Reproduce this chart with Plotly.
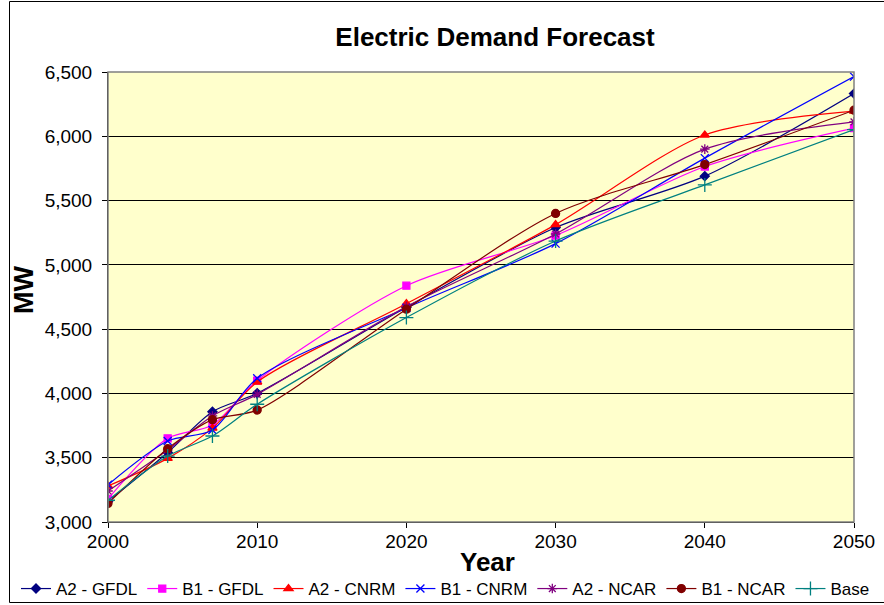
import plotly.graph_objects as go

years = [2000, 2004, 2007, 2010, 2020, 2030, 2040, 2050]

a2_gfdl = [3160, 3540, 3858, 4001, 4670, 5290, 5690, 6332]
b1_gfdl = [3180, 3651, 3755, 4100, 4838, 5228, 5765, 6063]
a2_cnrm = [3280, 3495, 3730, 4089, 4698, 5313, 6010, 6195]
b1_cnrm = [3290, 3630, 3716, 4118, 4665, 5165, 5830, 6464]
a2_ncar = [3241, 3560, 3825, 3993, 4675, 5240, 5900, 6112]
b1_ncar = [3145, 3570, 3796, 3871, 4655, 5400, 5780, 6203]
base = [3169, 3513, 3669, 3916, 4590, 5185, 5622, 6052]

series_names = ["A2 - GFDL", "B1 - GFDL", "A2 - CNRM", "B1 - CNRM",
                "A2 - NCAR", "B1 - NCAR", "Base"]
series_values = [a2_gfdl, b1_gfdl, a2_cnrm, b1_cnrm, a2_ncar, b1_ncar, base]
colors = ["#000080", "#FF00FF", "#FF0000", "#0000FF", "#800080", "#800000", "#008080"]
symbols = ["diamond", "square", "triangle-up", "x-thin-open", "asterisk-open",
           "circle", "cross-thin-open"]
sizes = [7, 7, 8, 8, 8, 8, 10]

y_ticks = [3000, 3500, 4000, 4500, 5000, 5500, 6000, 6500]
x_ticks = [2000, 2010, 2020, 2030, 2040, 2050]

FONT = "Arial, Liberation Sans, sans-serif"

fig = go.Figure()
for name, vals, c, s, sz in zip(series_names, series_values, colors, symbols, sizes):
    fig.add_trace(go.Scatter(
        x=years, y=vals, name=name, mode="lines+markers",
        line=dict(color=c, width=1.2, shape="spline", smoothing=0.8),
        marker=dict(symbol=s, size=sz, color=c, line=dict(color=c, width=1.3)),
    ))

W, H = 884, 605
L, R, T, B = 108, 30, 72, 83
pw, ph = W - L - R, H - T - B

def px(x):
    return (x - L) / pw

def py(y):
    return (H - B - y) / ph

fig.update_layout(
    width=W, height=H,
    margin=dict(l=L, r=R, t=T, b=B, autoexpand=False),
    paper_bgcolor="white",
    plot_bgcolor="#FFFFCC",
    font=dict(family=FONT, color="black", size=19),
    title=dict(text="<b>Electric Demand Forecast</b>", x=px(495), xref="paper",
               xanchor="center", y=1 - 36.5 / H, yref="container", yanchor="middle",
               font=dict(size=26, family=FONT, color="black")),
    showlegend=True,
    legend=dict(orientation="h", x=px(16), xanchor="left", y=py(589), yanchor="middle",
                font=dict(size=17, family=FONT), bgcolor="rgba(0,0,0,0)",
                itemwidth=30, tracegroupgap=0),
    xaxis=dict(range=[2000, 2050], tickvals=x_ticks, ticktext=[str(v) for v in x_ticks],
               ticks="outside", ticklen=5, tickcolor="black", showline=True,
               linecolor="black", linewidth=1, showgrid=False, zeroline=False,
               tickfont=dict(size=19), ticklabelstandoff=-3),
    yaxis=dict(range=[3000, 6500], tickvals=y_ticks,
               ticktext=[f"{v:,}" for v in y_ticks],
               ticks="outside", ticklen=5, tickcolor="black", showline=True,
               linecolor="black", linewidth=1, showgrid=True, gridcolor="black",
               gridwidth=1, zeroline=False, tickfont=dict(size=19),
               ticklabelstandoff=6),
    shapes=[
        dict(type="rect", xref="paper", yref="paper", x0=0, x1=1, y0=0, y1=1,
             line=dict(color="#808080", width=1.5), layer="above"),
        dict(type="rect", xref="paper", yref="paper", x0=px(9.5), x1=px(895),
             y0=py(602.5), y1=py(1.5), line=dict(color="black", width=1)),
    ],
    annotations=[
        dict(text="<b>MW</b>", x=px(24), y=py(290), xref="paper", yref="paper",
             textangle=-90, showarrow=False, font=dict(size=27, family=FONT),
             xanchor="center", yanchor="middle"),
        dict(text="<b>Year</b>", x=px(487), y=py(562), xref="paper", yref="paper",
             showarrow=False, font=dict(size=26, family=FONT),
             xanchor="center", yanchor="middle"),
    ],
)

fig.write_html("out.html",
               config={"displayModeBar": False},
               post_script="document.body.style.margin='0';"
                           "document.body.style.overflow='hidden';")
